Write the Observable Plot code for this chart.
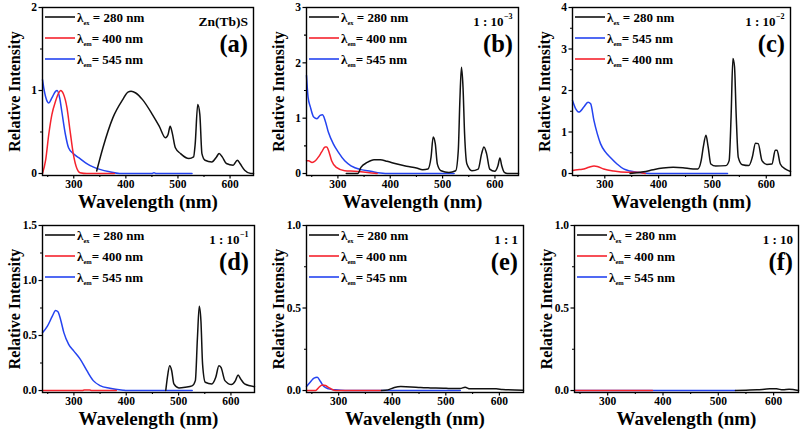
<!DOCTYPE html>
<html><head><meta charset="utf-8">
<script src="https://cdn.jsdelivr.net/npm/d3@7"></script>
<script src="https://cdn.jsdelivr.net/npm/@observablehq/plot@0.6"></script>
<style>
body{margin:0;background:#fff;}
#wrap{position:relative;width:803px;height:431px;overflow:hidden;background:#fff;}
.p{position:absolute;}
.p svg, .p svg text, .p svg tspan{font-family:"Liberation Serif","DejaVu Serif",serif !important;font-weight:700 !important;}
</style></head><body><div id="wrap"></div>
<script>
// ---------- data (wavelength nm, relative intensity) ----------
const xDomain = [240, 645];
const xMajor = [300, 400, 500, 600];
const xMinor = [250, 350, 450, 550];

const a_ex280 = [[344,0.03],[356,0.31],[375,0.67],[394,0.89],[404,0.98],[410,0.99],[419,0.97],[432,0.89],[451,0.71],[464,0.57],[476,0.43],[481,0.47],[485,0.57],[489,0.49],[495,0.31],[505,0.24],[521,0.18],[530,0.20],[533,0.35],[538,0.83],[542,0.71],[546,0.24],[552,0.16],[565,0.14],[574,0.20],[579,0.24],[585,0.20],[593,0.12],[606,0.10],[614,0.16],[619,0.12],[628,0.04],[640,0.0],[645,0.0]];
const a_em400 = [[240,0],[246,0.16],[252,0.47],[258,0.71],[265,0.87],[271,0.97],[275,1.0],[280,0.96],[287,0.79],[293,0.51],[299,0.24],[306,0.06],[312,0.01],[325,0],[378,0]];
const a_em545 = [[240,1.13],[242.5,1.03],[249,0.87],[252,0.85],[258,0.91],[265,0.99],[268,1.0],[273,0.91],[277,0.75],[284,0.47],[290,0.31],[299,0.24],[312,0.18],[325,0.12],[337,0.08],[350,0.05],[369,0.02],[388,0.0],[450,0.0],[454,0.01],[458,0],[527,0]];

const b_ex280 = [[316,0],[338,0],[344,0.11],[356,0.2],[369,0.25],[381,0.25],[394,0.22],[413,0.17],[431,0.13],[450,0.10],[462,0.07],[472,0.08],[478,0.30],[482,0.66],[486,0.54],[490,0.17],[497,0.05],[512,0.02],[525,0.05],[530,0.42],[533,1.32],[536,1.92],[539,1.56],[542,0.72],[546.5,0.17],[556,0.05],[568,0.08],[574.6,0.36],[579,0.48],[584,0.36],[590,0.08],[599.5,0.04],[605.7,0.14],[609.5,0.28],[613,0.14],[618,0.02],[624,0],[645,0]];
const b_em400 = [[240,0.23],[244,0.23],[250.6,0.20],[257,0.23],[263,0.30],[269,0.39],[275.5,0.48],[278.6,0.48],[283,0.39],[288,0.23],[297,0.11],[313,0.05],[331.6,0.04],[356.5,0.02],[375,0]];
const b_em545 = [[240,1.77],[243,1.38],[247.5,1.2],[253.7,1.02],[260,0.99],[266,1.05],[270.5,1.06],[275.5,0.96],[281.7,0.75],[291,0.54],[300.4,0.39],[313,0.23],[325,0.14],[344,0.07],[362.7,0.04],[381,0.01],[400,0],[522,0]];

const c_ex280 = [[347,0.0],[360,0.02],[372,0.04],[390,0.09],[408,0.13],[427,0.15],[445,0.14],[464,0.11],[473,0.11],[479,0.31],[483,0.64],[488,0.92],[492,0.64],[497,0.23],[506,0.18],[525,0.19],[531,0.31],[534.6,1.36],[538,2.77],[541,2.57],[544,1.44],[548,0.39],[555.5,0.21],[567.7,0.19],[574,0.39],[580,0.73],[585,0.72],[592,0.31],[601,0.22],[610.6,0.23],[616.7,0.56],[620,0.56],[626,0.23],[635,0.11],[645,0.05]];
const c_em545 = [[240,1.76],[246,1.56],[252,1.48],[261,1.6],[268.8,1.72],[273.7,1.68],[279.8,1.28],[286,0.96],[292,0.72],[301,0.52],[310,0.39],[322.7,0.23],[335,0.11],[347,0.06],[365.6,0.02],[384,0],[528,0]];
const c_em400 = [[240,0.07],[249,0.09],[258,0.10],[270.6,0.15],[280,0.18],[286,0.17],[298,0.11],[316.6,0.06],[341,0.03],[359,0.03],[375,0]];

const d_ex280 = [[475.5,0],[478.6,0.12],[483,0.225],[486.8,0.18],[491,0.06],[500.6,0.024],[513,0.03],[525.7,0.042],[532,0.09],[536,0.48],[539.5,0.765],[542.7,0.63],[545.8,0.24],[551,0.075],[563.4,0.06],[571,0.12],[577,0.225],[581,0.21],[588.5,0.09],[601,0.054],[608.6,0.09],[613.6,0.14],[618.6,0.105],[626,0.06],[645,0.035]];
const d_em400 = [[240,0],[316,0],[320,0.005],[330,0.005],[334,0],[381,0]];
const d_em545 = [[240,0.525],[249.4,0.585],[258.8,0.676],[265,0.727],[269.5,0.715],[274.5,0.646],[280.8,0.526],[290,0.42],[299.6,0.36],[312,0.285],[324.8,0.18],[337,0.09],[350,0.045],[368.7,0.021],[393.8,0.003],[400,0],[526,0]];

const e_ex280 = [[380,0],[392,0.004],[404,0.018],[416,0.024],[435,0.022],[453,0.018],[471.5,0.016],[496,0.014],[508,0.012],[526.7,0.012],[536,0.02],[545,0.01],[569.6,0.01],[594,0.01],[606,0.006],[645,0.002]];
const e_em400 = [[240,0],[257,0],[263,0.018],[269.4,0.034],[275.5,0.03],[281.6,0.018],[287.8,0.006],[294,0],[380,0]];
const e_em545 = [[240,0.024],[248,0.055],[254,0.075],[260,0.08],[266,0.055],[272.5,0.024],[281.6,0.01],[294,0.004],[312,0],[527,0]];

const f_ex280 = [[531,0],[550,0.002],[570,0.004],[593,0.01],[605,0.01],[617,0.004],[628,0.008],[645,0]];
const f_em400 = [[240,0],[381,0]];
const f_em545 = [[240,0],[531,0]];

const legendEx = {sub: "ex", text: " = 280 nm", key: "ex"};
const legendEm400 = {sub: "em", text: "= 400 nm", key: "em400"};
const legendEm545 = {sub: "em", text: "= 545 nm", key: "em545"};

const yTicks3 = {a:[0,1,2], b:[0,1,2,3], c:[0,1,2,3,4], d:[0,0.5,1.0,1.5], e:[0,0.5,1.0], f:[0,0.5,1.0]};
const yMinor3 = {a:[0.5,1.5], b:[0.5,1.5,2.5], c:[0.5,1.5,2.5,3.5], d:[0.25,0.75,1.25], e:[0.25,0.75], f:[0.25,0.75]};
const notes = {a:["Zn(Tb)S",""], b:["1 : 10","\u22123"], c:["1 : 10","\u22122"], d:["1 : 10","\u22121"], e:["1 : 1",""], f:["1 : 10",""]};
const tags = {a:"(a)", b:"(b)", c:"(c)", d:"(d)", e:"(e)", f:"(f)"};

// ---------- styling / layout ----------
const FONT = "'Liberation Serif','DejaVu Serif',serif";
const COL = {ex: "#111111", em400: "#f5222d", em545: "#2443f0"};

const panels = [
  {id:"a", left:0,   top:0,   w:265, h:215, mt:7,  mb:40, ml:42, mr:12, yMax:2,   fmt:d3.format("d"),
   series:{ex:a_ex280, em400:a_em400, em545:a_em545}, legend:[legendEx, legendEm400, legendEm545]},
  {id:"b", left:265, top:0,   w:265, h:215, mt:7,  mb:40, ml:41, mr:12, yMax:3,   fmt:d3.format("d"),
   series:{ex:b_ex280, em400:b_em400, em545:b_em545}, legend:[legendEx, legendEm400, legendEm545]},
  {id:"c", left:530, top:0,   w:273, h:215, mt:7,  mb:40, ml:42, mr:13, yMax:4,   fmt:d3.format("d"),
   series:{ex:c_ex280, em400:c_em400, em545:c_em545}, legend:[legendEx, legendEm545, legendEm400]},
  {id:"d", left:0,   top:215, w:265, h:216, mt:10, mb:39, ml:42, mr:11, yMax:1.5, fmt:d3.format(".1f"),
   series:{ex:d_ex280, em400:d_em400, em545:d_em545}, legend:[legendEx, legendEm400, legendEm545]},
  {id:"e", left:265, top:215, w:265, h:216, mt:10, mb:39, ml:41, mr:7,  yMax:1,   fmt:d3.format(".1f"),
   series:{ex:e_ex280, em400:e_em400, em545:e_em545}, legend:[legendEx, legendEm400, legendEm545]},
  {id:"f", left:530, top:215, w:273, h:216, mt:10, mb:39, ml:44, mr:5,  yMax:1,   fmt:d3.format(".1f"),
   series:{ex:f_ex280, em400:f_em400, em545:f_em545}, legend:[legendEx, legendEm400, legendEm545]}
];

function legendMark(items) {
  return (index, scales, values, dim) => {
    const g = d3.create("svg:g").attr("fill", "black").attr("text-anchor", "start");
    const x0 = dim.marginLeft, y0 = dim.marginTop;
    items.forEach((it, i) => {
      const y = y0 + 10 + i * 21;
      g.append("line").attr("x1", x0 + 3).attr("x2", x0 + 33).attr("y1", y).attr("y2", y)
        .attr("stroke", COL[it.key]).attr("stroke-width", 1.6);
      const t = g.append("text").attr("x", x0 + 35).attr("y", y + 4.5).attr("font-size", 13);
      t.append("tspan").text("\u03bb");
      t.append("tspan").attr("font-size", 6.5).attr("dy", 3).text(it.sub);
      t.append("tspan").attr("dy", -3).text(it.text);
    });
    return g.node();
  };
}

function noteMark(note, tag) {
  return (index, scales, values, dim) => {
    const g = d3.create("svg:g").attr("fill", "black");
    const xr = dim.width - dim.marginRight - 5, y0 = dim.marginTop;
    if (note[1]) {
      g.append("text").attr("text-anchor", "end").attr("x", xr - 9.5).attr("y", y0 + 18.5).attr("font-size", 13).text(note[0]);
      g.append("text").attr("text-anchor", "start").attr("x", xr - 9).attr("y", y0 + 11.5).attr("font-size", 8).text(note[1]);
    } else {
      g.append("text").attr("text-anchor", "end").attr("x", xr).attr("y", y0 + 18.5)
        .attr("font-size", tag === "(a)" ? 13.5 : 13).text(note[0]);
    }
    g.append("text").attr("text-anchor", "end").attr("x", xr).attr("y", y0 + 44.5).attr("font-size", 24.5).text(tag);
    return g.node();
  };
}

const wrap = document.getElementById("wrap");
for (const p of panels) {
  const ymin = -0.012 * p.yMax;
  const lines = ["em545", "em400", "ex"].map(k =>
    Plot.line(p.series[k], {x: d => d[0], y: d => d[1], stroke: COL[k], strokeWidth: 1.5, curve: "monotone-x"}));
  const chart = Plot.plot({
    width: p.w, height: p.h,
    marginTop: p.mt, marginBottom: p.mb, marginLeft: p.ml, marginRight: p.mr,
    style: "font-family: " + FONT + "; font-weight: bold; color: black; background: white; overflow: visible;",
    x: {domain: xDomain, label: null},
    y: {domain: [ymin, p.yMax], label: null},
    marks: [
      ...lines,
      Plot.frame({stroke: "black", strokeWidth: 1.4}),
      Plot.axisX(xMajor, {tickSize: 3.5, tickPadding: 1, fontSize: 11.5, tickFormat: d3.format("d"), strokeWidth: 1.2, label: null}),
      Plot.axisX(xMinor, {tickSize: 2, tickFormat: () => "", strokeWidth: 1.1, label: null}),
      Plot.axisY(yTicks3[p.id], {tickSize: 3.5, tickPadding: 2, fontSize: 11.5, tickFormat: p.fmt, strokeWidth: 1.2, label: null}),
      Plot.axisY(yMinor3[p.id], {tickSize: 2, tickFormat: () => "", strokeWidth: 1.1, label: null}),
      Plot.text(["Wavelength (nm)"], {text: d => d, frameAnchor: "bottom", dy: 26, fontSize: 19, lineAnchor: "middle", textAnchor: "middle"}),
      Plot.text(["Relative Intensity"], {text: d => d, frameAnchor: "left", dx: -28, rotate: -90, fontSize: 16, lineAnchor: "middle", textAnchor: "middle"}),
      legendMark(p.legend),
      noteMark(notes[p.id], tags[p.id])
    ]
  });
  const div = document.createElement("div");
  div.className = "p";
  div.style.left = p.left + "px";
  div.style.top = p.top + "px";
  div.appendChild(chart);
  wrap.appendChild(div);
}
</script>
</body></html>
